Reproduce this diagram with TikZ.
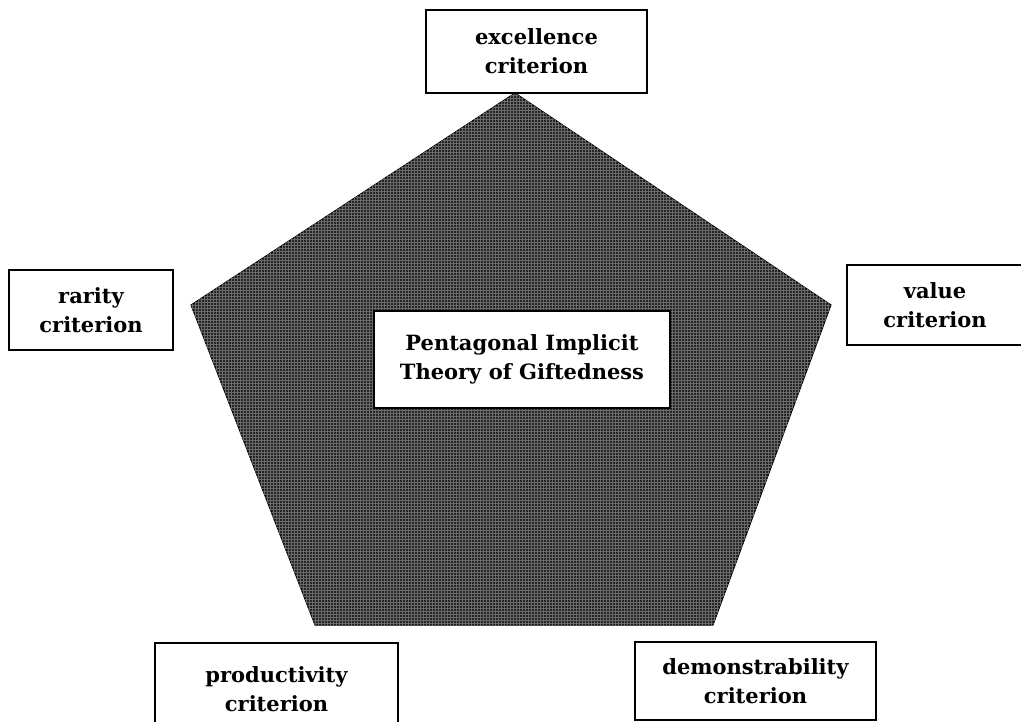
\documentclass[tikz,border=0pt]{standalone}
\usepackage{fontspec}
\setmainfont{DejaVu Serif}
\usetikzlibrary{patterns}
\definecolor{clrPent}{HTML}{262626}
\definecolor{clrGrid}{HTML}{6A6A6A}

\begin{document}
\begin{tikzpicture}[
  x=1pt, y=-1pt,
  crit/.style = {
    rectangle,
    draw=black, fill=white, line width=1.8pt,
    font=\fontsize{21}{29}\selectfont\bfseries, inner sep=0pt, align=center
  },
  pent/.style = {
    fill=clrPent, draw=black, line width=1pt
  }
]
  \useasboundingbox (0,0) rectangle (1021,722);

  % pentagon corners
  \coordinate (ptop) at (515,93);
  \coordinate (pleft) at (191,305);
  \coordinate (pright) at (831,305);
  \coordinate (pbl) at (315,625);
  \coordinate (pbr) at (713,625);
  \fill[pent] (ptop) -- (pright) -- (pbr) -- (pbl) -- (pleft) -- cycle;
  \fill[pattern=grid, pattern color=clrGrid] (ptop) -- (pright) -- (pbr) -- (pbl) -- (pleft) -- cycle;

  \node[crit, minimum width=296, minimum height=97] (theory) at (522,359.5)
    {Pentagonal Implicit\\Theory of Giftedness};

  \node[crit, minimum width=221, minimum height=83] (excel) at (536.5,51.5) {excellence\\criterion};
  \node[crit, minimum width=164, minimum height=80] (rarity) at (91,310)    {rarity\\criterion};
  \node[crit, minimum width=176, minimum height=80] (value)  at (935,305)   {value\\criterion};
  \node[crit, minimum width=243, minimum height=92] (prod)   at (276.5,689) {productivity\\criterion};
  \node[crit, minimum width=241, minimum height=78] (demo)   at (755.5,681) {demonstrability\\criterion};
\end{tikzpicture}
\end{document}
